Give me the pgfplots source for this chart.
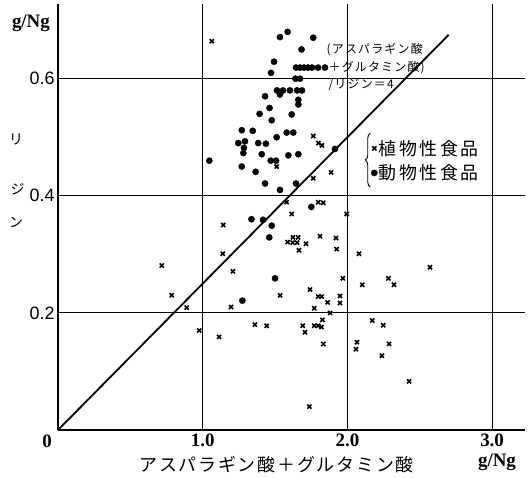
\documentclass[border=0pt]{standalone}
\usepackage{fontspec}
\usepackage{pgfplots}
\pgfplotsset{compat=1.18}
\usetikzlibrary{decorations.pathreplacing}
\setmainfont{Liberation Serif}
\newfontfamily\ysans{Liberation Sans}
\newfontfamily\cjk{Noto Sans CJK JP}
\newfontfamily\cjkw{Noto Sans CJK JP}[LetterSpace=14]
\newfontfamily\cjkx{Noto Sans CJK JP}[LetterSpace=10]

% plant foods (x), animal foods (dots): Asp+Glu vs lysine, g/Ng
\pgfplotstableread{
x y
1.062 0.664
1.764 0.502
1.799 0.490
1.824 0.486
1.511 0.450
1.764 0.430
1.887 0.440
1.580 0.389
1.615 0.369
1.799 0.389
1.833 0.388
1.995 0.369
1.142 0.350
1.138 0.301
1.209 0.271
0.717 0.281
0.786 0.230
0.889 0.209
0.976 0.170
1.113 0.159
1.196 0.210
1.361 0.180
1.442 0.178
1.624 0.329
1.659 0.329
1.587 0.321
1.621 0.320
1.652 0.320
1.714 0.318
1.666 0.307
1.811 0.331
1.921 0.328
1.926 0.309
2.080 0.301
1.968 0.259
2.103 0.248
2.283 0.259
2.322 0.248
2.571 0.278
1.742 0.240
1.535 0.230
1.799 0.228
1.822 0.228
1.864 0.218
1.949 0.229
1.949 0.217
1.771 0.208
1.880 0.200
1.691 0.178
1.707 0.167
1.771 0.178
1.799 0.178
1.821 0.176
1.827 0.188
1.833 0.147
2.172 0.187
2.248 0.179
2.066 0.150
2.059 0.138
2.288 0.147
2.239 0.127
2.426 0.083
1.737 0.040
}\plant

\pgfplotstableread{
x y
1.587 0.680
1.534 0.671
1.764 0.670
1.683 0.650
1.493 0.629
1.472 0.610
1.645 0.619
1.672 0.619
1.700 0.619
1.728 0.619
1.755 0.619
1.797 0.619
1.845 0.619
1.641 0.600
1.672 0.600
1.513 0.580
1.555 0.580
1.603 0.580
1.652 0.580
1.686 0.580
1.534 0.573
1.661 0.564
1.661 0.556
1.431 0.570
1.462 0.550
1.393 0.540
1.615 0.539
1.477 0.529
1.270 0.512
1.346 0.511
1.580 0.508
1.626 0.508
1.511 0.500
1.246 0.490
1.292 0.493
1.285 0.482
1.281 0.473
1.384 0.490
1.437 0.489
1.408 0.471
1.592 0.469
1.661 0.471
1.470 0.460
1.507 0.460
1.046 0.460
1.270 0.450
1.366 0.441
1.431 0.421
1.645 0.421
1.534 0.410
1.914 0.480
1.751 0.381
1.337 0.360
1.417 0.359
1.477 0.349
1.460 0.329
1.500 0.259
1.274 0.221
}\animal

\begin{document}
\begin{tikzpicture}
\begin{axis}[
  at={(0,0)}, anchor=origin,
  x=144.7bp, y=585.5bp,
  xmin=0, xmax=3.23, ymin=0, ymax=0.727,
  axis x line=bottom, axis y line=left,
  axis line style={-, line width=1.6bp},
  xtick={1,2,3}, xticklabels={1.0,2.0,3.0},
  ytick={0.2,0.4,0.6}, yticklabels={0.2,0.4,0.6},
  xticklabel style={font=\fontsize{19}{19}\selectfont\bfseries},
  yticklabel style={font=\fontsize{18}{18}\selectfont\ysans},
  major tick length=0pt,
  grid=major, grid style={black, line width=0.9bp},
  clip=false,
  legend style={at={(axis cs:2.163,0.46)}, anchor=west, draw=none, fill=none,
    font=\fontsize{18}{18}\selectfont\cjkw, inner sep=0pt, row sep=5bp,
    nodes={inner sep=1.5bp}},
  legend cell align=left,
  legend image code/.code={\draw[mark repeat=2,mark phase=2,#1] plot coordinates {(0bp,0bp) (3.5bp,0bp) (7bp,0bp)};},
]
\addplot[only marks, mark=x, mark size=2.9bp, line width=1.6bp, black] table {\plant};
\addlegendentry{植物性食品}
\addplot[only marks, mark=*, mark size=3.1bp, black] table {\animal};
\addlegendentry{動物性食品}
\addplot[black, line width=1.8bp, forget plot] coordinates {(0,0) (2.70,0.675)};

\draw[decorate, decoration={brace, amplitude=5bp}, line width=0.9bp]
  (axis cs:2.158,0.415) -- (axis cs:2.158,0.507);

\node[align=left, anchor=north west, inner sep=0pt, font=\fontsize{12}{17.5}\selectfont\cjkx]
  at (axis cs:1.855,0.660) {(アスパラギン酸\\\,＋グルタミン酸)\\\,/リジン＝4};

\node[font=\fontsize{19}{19}\selectfont\bfseries] at (axis cs:-0.187,0.694) {g/Ng};
\node[font=\fontsize{14}{14}\selectfont\cjk] at (axis cs:-0.29,0.496) {リ};
\node[font=\fontsize{14}{14}\selectfont\cjk] at (axis cs:-0.28,0.411) {ジ};
\node[font=\fontsize{14}{14}\selectfont\cjk] at (axis cs:-0.29,0.354) {ン};
\node[font=\fontsize{19}{19}\selectfont\bfseries] at (axis cs:-0.076,-0.0185) {0};
\node[font=\fontsize{18}{18}\selectfont\cjkx] at (axis cs:1.51,-0.059) {アスパラギン酸＋グルタミン酸};
\node[font=\fontsize{19}{19}\selectfont\bfseries] at (axis cs:3.034,-0.055) {g/Ng};
\end{axis}
\path (-58bp,-48bp) rectangle (470bp,430bp);
\end{tikzpicture}
\end{document}
